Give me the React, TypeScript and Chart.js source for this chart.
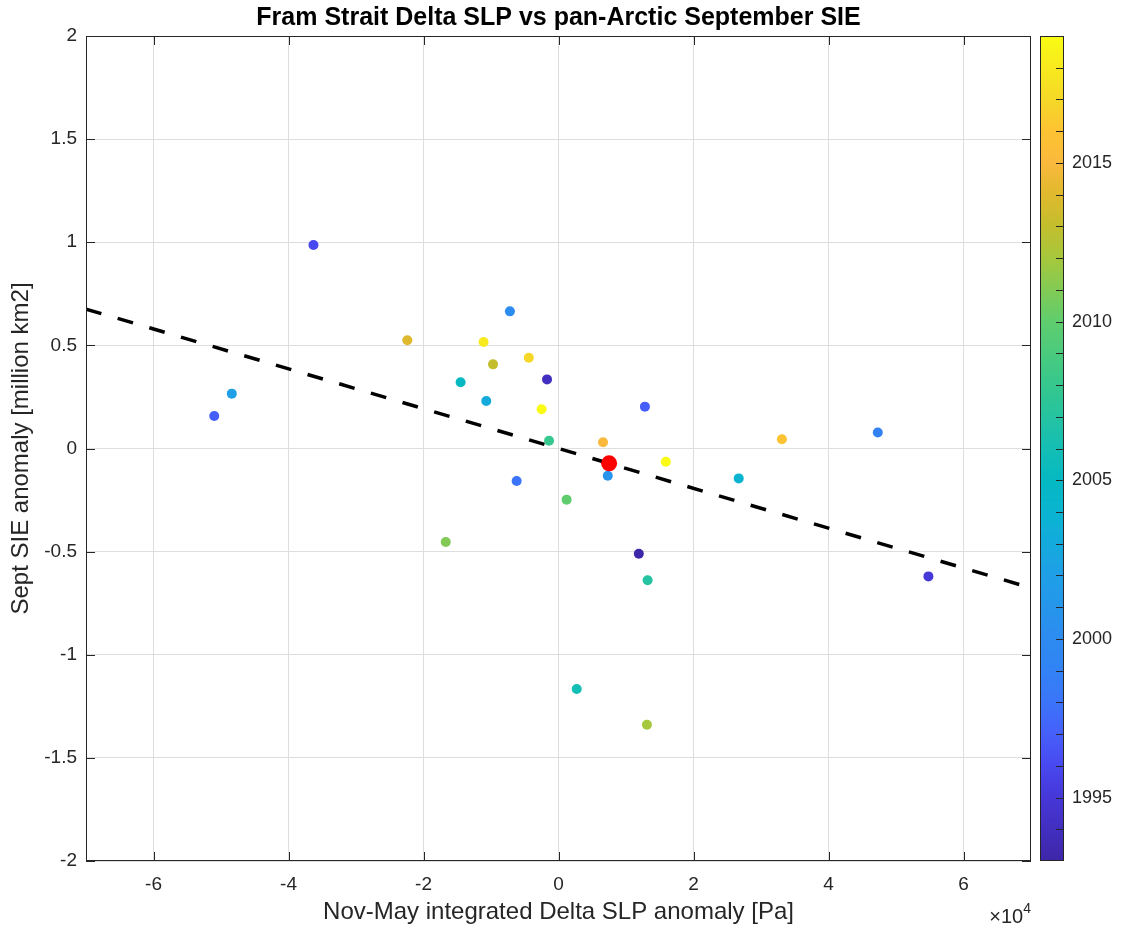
import React, { useEffect, useRef } from "react";
import { Chart, registerables } from "chart.js";

Chart.register(...registerables);

// Data (x in Pa, y in million km2)
const slpX = [
  -36300, -51000, -48400, -22400, -11100, -7200, -4400, -9700, -1700, -14500,
  -10700, -2500, -1400, 6600, 12800, 7300, 15900, -6200, 1200, -16700,
  11900, 13200, 2700, 13100, 26700, 33100, 47300, 54800,
];
const sieY = [
  0.987, 0.158, 0.266, 0.525, 0.516, 0.665, 0.44, 0.408, 0.335, 0.321,
  0.23, 0.19, 0.038, 0.03, 0.203, -0.132, -0.064, -0.158, -0.248, -0.453,
  -0.51, -0.639, -1.166, -1.339, -0.145, 0.045, 0.078, -0.62,
];
const pointYears = [
  1996, 1997, 2002, 2014, 2018, 2000, 2017, 2013, 1994, 2005,
  2003, 2019, 2008, 2015, 1997, 2001, 2019, 1998, 2010, 2011,
  1993, 2007, 2006, 2012, 2004, 2016, 1999, 1995,
];
const highlightX = [7500];
const highlightY = [-0.072];
const fitX = [-70000, 70000];
const fitY = [0.676, -0.676];

const xTicks = [-60000, -40000, -20000, 0, 20000, 40000, 60000];
const yTicks = [-2, -1.5, -1, -0.5, 0, 0.5, 1, 1.5, 2];
const cbarTicks = [1995, 2000, 2005, 2010, 2015];
const yearMin = 1993;
const yearMax = 2019;

const titleText = "Fram Strait Delta SLP vs pan-Arctic September SIE";
const xLabel = "Nov-May integrated Delta SLP anomaly [Pa]";
const yLabel = "Sept SIE anomaly [million km2]";

// parula-like colormap
const cmapStops: [number, number, number, number][] = [
  [0.0, 62, 38, 168],
  [0.077, 70, 55, 215],
  [0.115, 72, 72, 240],
  [0.154, 70, 95, 250],
  [0.19, 60, 115, 250],
  [0.23, 50, 130, 245],
  [0.27, 45, 140, 240],
  [0.35, 30, 160, 230],
  [0.42, 10, 180, 210],
  [0.46, 5, 185, 195],
  [0.5, 20, 190, 180],
  [0.58, 55, 200, 140],
  [0.654, 95, 205, 110],
  [0.73, 165, 200, 60],
  [0.77, 195, 190, 45],
  [0.81, 225, 185, 45],
  [0.846, 250, 185, 60],
  [0.885, 253, 195, 50],
  [0.92, 245, 215, 40],
  [1.0, 249, 251, 20],
];
function cmap(t: number): string {
  t = Math.max(0, Math.min(1, t));
  for (let i = 0; i < cmapStops.length - 1; i++) {
    const a = cmapStops[i];
    const b = cmapStops[i + 1];
    if (t >= a[0] && t <= b[0]) {
      const f = (t - a[0]) / (b[0] - a[0] || 1);
      const r = Math.round(a[1] + (b[1] - a[1]) * f);
      const g = Math.round(a[2] + (b[2] - a[2]) * f);
      const bb = Math.round(a[3] + (b[3] - a[3]) * f);
      return `rgb(${r},${g},${bb})`;
    }
  }
  const l = cmapStops[cmapStops.length - 1];
  return `rgb(${l[1]},${l[2]},${l[3]})`;
}
const yearColor = (y: number) => cmap((y - yearMin) / (yearMax - yearMin));

const FONT = "'Liberation Sans', Arial, Helvetica, sans-serif";
const AX = "#262626";

const decorPlugin = {
  id: "decor",
  afterDraw(chart: any) {
    const { ctx, chartArea } = chart;
    const { left, right, top, bottom } = chartArea;
    const xs = chart.scales.x;
    const ys = chart.scales.y;
    ctx.save();
    // box
    ctx.strokeStyle = AX;
    ctx.lineWidth = 1;
    ctx.strokeRect(left + 0.5, top + 0.5, right - left - 1, bottom - top - 1);
    // inner ticks
    const tl = 9;
    ctx.beginPath();
    xTicks.forEach((v) => {
      const px = Math.round(xs.getPixelForValue(v)) + 0.5;
      ctx.moveTo(px, bottom);
      ctx.lineTo(px, bottom - tl);
      ctx.moveTo(px, top);
      ctx.lineTo(px, top + tl);
    });
    yTicks.forEach((v) => {
      const py = Math.round(ys.getPixelForValue(v)) + 0.5;
      ctx.moveTo(left, py);
      ctx.lineTo(left + tl, py);
      ctx.moveTo(right, py);
      ctx.lineTo(right - tl, py);
    });
    ctx.stroke();

    // title
    ctx.fillStyle = "#000";
    ctx.font = `bold 25px ${FONT}`;
    ctx.textAlign = "center";
    ctx.textBaseline = "middle";
    ctx.fillText(titleText, (left + right) / 2, 18);

    // x10^4
    ctx.fillStyle = AX;
    ctx.textAlign = "left";
    ctx.textBaseline = "alphabetic";
    ctx.font = `20px ${FONT}`;
    const base = "\u00d710";
    const bw = ctx.measureText(base).width;
    ctx.font = `14px ${FONT}`;
    const sw = ctx.measureText("4").width;
    const sx = right - bw - sw;
    ctx.font = `20px ${FONT}`;
    ctx.fillText(base, sx, 923);
    ctx.font = `14px ${FONT}`;
    ctx.fillText("4", sx + bw, 913);

    // colorbar
    const cbL = 1040;
    const cbR = 1064;
    const cbT = top;
    const cbB = bottom;
    const h = cbB - cbT;
    for (let i = 0; i < h; i++) {
      const t = 1 - (i + 0.5) / h;
      ctx.fillStyle = cmap(t);
      ctx.fillRect(cbL, cbT + i, cbR - cbL, 1);
    }
    ctx.strokeStyle = AX;
    ctx.lineWidth = 1;
    ctx.strokeRect(cbL + 0.5, cbT + 0.5, cbR - cbL - 1, h - 1);
    const yearPx = (yr: number) => cbB - ((yr - yearMin) / (yearMax - yearMin)) * h;
    ctx.beginPath();
    for (let yr = yearMin + 1; yr < yearMax; yr++) {
      const py = Math.round(yearPx(yr)) + 0.5;
      ctx.moveTo(cbR, py);
      ctx.lineTo(cbR - 8, py);
    }
    ctx.stroke();
    ctx.fillStyle = AX;
    ctx.font = `18px ${FONT}`;
    ctx.textAlign = "left";
    ctx.textBaseline = "middle";
    cbarTicks.forEach((yr) => {
      ctx.fillText(String(yr), 1072, yearPx(yr));
    });
    ctx.restore();
  },
};

export default function App() {
  const ref = useRef<HTMLCanvasElement | null>(null);
  useEffect(() => {
    if (!ref.current) return;
    const pts = slpX.map((x, i) => ({ x, y: sieY[i] }));
    const chart = new Chart(ref.current, {
      type: "scatter",
      data: {
        datasets: [
          {
            type: "line",
            data: fitX.map((x, i) => ({ x, y: fitY[i] })),
            borderColor: "#000",
            borderWidth: 3.5,
            borderDash: [16, 17],
            pointRadius: 0,
            fill: false,
            order: 3,
          } as any,
          {
            data: pts,
            pointRadius: 5,
            pointBorderWidth: 0,
            pointBackgroundColor: pointYears.map(yearColor),
            pointBorderColor: pointYears.map(yearColor),
            order: 2,
          },
          {
            data: highlightX.map((x, i) => ({ x, y: highlightY[i] })),
            pointRadius: 8,
            pointBorderWidth: 0,
            pointBackgroundColor: "#ff0000",
            pointBorderColor: "#ff0000",
            order: 1,
          },
        ],
      },
      options: {
        responsive: false,
        animation: false,
        devicePixelRatio: 1,
        layout: { padding: { left: 0, top: 36, right: 92, bottom: 0 } },
        plugins: {
          legend: { display: false },
          tooltip: { enabled: false },
          title: { display: false },
        },
        scales: {
          x: {
            type: "linear",
            min: -70000,
            max: 70000,
            afterBuildTicks: (s: any) => {
              s.ticks = xTicks.map((v) => ({ value: v }));
            },
            afterFit: (s: any) => {
              s.height = 71;
            },
            ticks: {
              color: AX,
              font: { family: FONT, size: 19 },
              padding: 12,
              maxRotation: 0,
              callback: (v: any) => String(Number(v) / 10000),
            },
            grid: { color: "#dedede", lineWidth: 1, drawTicks: false },
            border: { display: false },
            title: {
              display: true,
              text: xLabel,
              color: AX,
              font: { family: FONT, size: 24 },
              padding: { top: 0, bottom: 5 },
            },
          },
          y: {
            type: "linear",
            min: -2,
            max: 2,
            afterBuildTicks: (s: any) => {
              s.ticks = yTicks.map((v) => ({ value: v }));
            },
            afterFit: (s: any) => {
              s.width = 86;
            },
            ticks: {
              color: AX,
              font: { family: FONT, size: 19 },
              padding: 9,
              callback: (v: any) => String(v),
            },
            grid: { color: "#dedede", lineWidth: 1, drawTicks: false },
            border: { display: false },
            title: {
              display: true,
              text: yLabel,
              color: AX,
              font: { family: FONT, size: 24 },
              padding: { top: 7, bottom: 0 },
            },
          },
        },
      },
      plugins: [decorPlugin],
    });
    return () => chart.destroy();
  }, []);
  return (
    <div style={{ position: "absolute", left: 0, top: 0, width: 1123, height: 932, background: "#fff" }}>
      <canvas ref={ref} width={1123} height={932} style={{ display: "block" }} />
    </div>
  );
}
